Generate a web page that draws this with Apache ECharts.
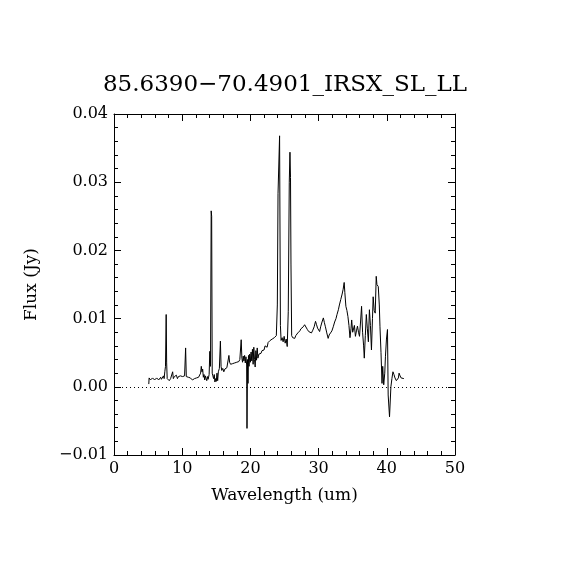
<!DOCTYPE html>
<html>
<head>
<meta charset="utf-8">
<script src="https://cdn.jsdelivr.net/npm/echarts@6/dist/echarts.min.js"></script>
<style>
  html, body { margin: 0; padding: 0; background: #fff; }
  #main { width: 570px; height: 570px; }
</style>
</head>
<body>
<div id="main"></div>
<script>
// spectrum (wavelength in um, flux in Jy)
var wavelength = [
  5.10, 5.15, 5.25, 5.35, 5.45, 5.55, 5.65, 5.75, 5.85, 5.95,
  6.05, 6.15, 6.25, 6.35, 6.45, 6.55, 6.65, 6.75, 6.85, 6.95,
  7.05, 7.15, 7.25, 7.35, 7.45, 7.55, 7.65, 7.72, 7.80, 7.90,
  8.00, 8.10, 8.20, 8.30, 8.45, 8.60, 8.70, 8.85, 9.00, 9.15,
  9.30, 9.45, 9.60, 9.75, 9.90, 10.05, 10.20, 10.35, 10.50, 10.60,
  10.75, 10.90, 11.05, 11.20, 11.35, 11.50, 11.65, 11.80, 11.95, 12.10,
  12.25, 12.40, 12.55, 12.70, 12.80, 12.90, 13.00, 13.10, 13.20, 13.30,
  13.40, 13.50, 13.60, 13.70, 13.80, 13.95, 14.05, 14.15, 14.25, 14.32,
  14.40, 14.50, 14.60, 14.70, 14.80, 14.90, 15.00, 15.10, 15.20, 15.30,
  15.45, 15.60, 15.70, 15.80, 15.95, 16.10, 16.25, 16.40, 16.55, 16.70,
  16.85, 16.95, 17.10, 17.25, 17.40, 17.55, 17.70, 17.85, 18.00, 18.15,
  18.30, 18.45, 18.55, 18.65, 18.75, 18.85, 18.95, 19.05, 19.15, 19.25,
  19.35, 19.45, 19.50, 19.58, 19.65, 19.72, 19.80, 19.90, 20.00, 20.10,
  20.20, 20.30, 20.40, 20.50, 20.60, 20.70, 20.80, 20.90, 21.00, 21.10,
  21.25, 21.40, 21.55, 21.70, 21.85, 22.00, 22.15, 22.30, 22.45, 22.60,
  22.75, 22.90, 23.05, 23.20, 23.35, 23.50, 23.65, 23.80, 23.95, 24.05,
  24.15, 24.28, 24.40, 24.50, 24.65, 24.80, 24.95, 25.10, 25.25, 25.40,
  25.55, 25.70, 25.80, 25.88, 25.95, 26.05, 26.20, 26.35, 26.50, 26.65,
  26.80, 26.95, 27.10, 27.25, 27.40, 27.55, 27.75, 27.95, 28.15, 28.35,
  28.55, 28.75, 28.95, 29.15, 29.35, 29.55, 29.70, 29.85, 30.00, 30.15,
  30.30, 30.50, 30.70, 30.85, 31.00, 31.20, 31.40, 31.55, 31.75, 31.95,
  32.15, 32.35, 32.55, 32.70, 32.90, 33.05, 33.25, 33.45, 33.60, 33.75,
  33.85, 34.00, 34.15, 34.30, 34.45, 34.60, 34.75, 34.85, 35.00, 35.10,
  35.25, 35.40, 35.55, 35.70, 35.85, 36.00, 36.15, 36.30, 36.45, 36.60,
  36.70, 36.85, 37.00, 37.15, 37.30, 37.45, 37.60, 37.75, 37.90, 38.00,
  38.15, 38.30, 38.45, 38.55, 38.75, 38.90, 39.00, 39.15, 39.30, 39.40,
  39.55, 39.70, 39.80, 39.95, 40.10, 40.20, 40.40, 40.60, 40.75, 40.90,
  41.05, 41.20, 41.40, 41.55, 41.70, 41.80, 41.95, 42.10, 42.30, 42.50
];
var flux = [
  0.0004, 0.0013, 0.0015, 0.0010, 0.0012, 0.0009, 0.0013, 0.0011, 0.0014, 0.0010,
  0.0012, 0.0009, 0.0013, 0.0011, 0.0015, 0.0010, 0.0012, 0.0008, 0.0014, 0.0011,
  0.0013, 0.0009, 0.0016, 0.0012, 0.0022, 0.0030, 0.0106, 0.0035, 0.0012, 0.0010,
  0.0013, 0.0009, 0.0011, 0.0012, 0.0014, 0.0022, 0.0012, 0.0015, 0.0013, 0.0017,
  0.0012, 0.0015, 0.0013, 0.0016, 0.0014, 0.0015, 0.0014, 0.0016, 0.0057, 0.0015,
  0.0013, 0.0014, 0.0012, 0.0013, 0.0011, 0.0010, 0.0011, 0.0012, 0.0011, 0.0013,
  0.0012, 0.0014, 0.0016, 0.0020, 0.0030, 0.0022, 0.0026, 0.0014, 0.0018, 0.0010,
  0.0016, 0.0012, 0.0009, 0.0015, 0.0011, 0.0018, 0.0052, 0.0030, 0.0258, 0.0250,
  0.0020, 0.0016, 0.0012, 0.0018, 0.0007, 0.0012, 0.0008, 0.0020, 0.0009, 0.0022,
  0.0027, 0.0067, 0.0030, 0.0024, 0.0027, 0.0022, 0.0026, 0.0024, 0.0028, 0.0027,
  0.0046, 0.0036, 0.0033, 0.0035, 0.0034, 0.0036, 0.0035, 0.0037, 0.0036, 0.0038,
  0.0037, 0.0040, 0.0038, 0.0069, 0.0042, 0.0036, 0.0045, 0.0038, 0.0046, 0.0035,
  0.0044, 0.0032, -0.0061, 0.0040, 0.0005, 0.0046, 0.0030, 0.0048, 0.0036, 0.0051,
  0.0038, 0.0055, 0.0033, 0.0058, 0.0040, 0.0029, 0.0053, 0.0039, 0.0057, 0.0042,
  0.0048, 0.0050, 0.0049, 0.0053, 0.0055, 0.0054, 0.0060, 0.0062, 0.0058, 0.0065,
  0.0063, 0.0068, 0.0066, 0.0070, 0.0068, 0.0072, 0.0071, 0.0075, 0.0120, 0.0283,
  0.0285, 0.0368, 0.0090, 0.0068, 0.0072, 0.0066, 0.0074, 0.0064, 0.0070, 0.0059,
  0.0110, 0.0300, 0.0344, 0.0307, 0.0180, 0.0075, 0.0072, 0.0074, 0.0071, 0.0075,
  0.0074, 0.0079, 0.0077, 0.0082, 0.0085, 0.0087, 0.0088, 0.0091, 0.0090, 0.0084,
  0.0081, 0.0083, 0.0079, 0.0083, 0.0088, 0.0096, 0.0091, 0.0086, 0.0084, 0.0081,
  0.0088, 0.0095, 0.0101, 0.0094, 0.0088, 0.0079, 0.0071, 0.0076, 0.0079, 0.0082,
  0.0088, 0.0095, 0.0100, 0.0106, 0.0113, 0.0120, 0.0128, 0.0136, 0.0143, 0.0153,
  0.0138, 0.0118, 0.0112, 0.0103, 0.0090, 0.0072, 0.0085, 0.0098, 0.0080, 0.0081,
  0.0090, 0.0074, 0.0082, 0.0089, 0.0080, 0.0074, 0.0095, 0.0118, 0.0080, 0.0060,
  0.0042, 0.0075, 0.0106, 0.0085, 0.0066, 0.0113, 0.0090, 0.0054, 0.0100, 0.0132,
  0.0112, 0.0108, 0.0162, 0.0150, 0.0147, 0.0120, 0.0088, 0.0050, 0.0005, 0.0030,
  0.0003, 0.0020, 0.0044, 0.0070, 0.0084, -0.0012, -0.0044, 0.0000, 0.0012, 0.0022,
  0.0018, 0.0013, 0.0009, 0.0008, 0.0013, 0.0020, 0.0016, 0.0013, 0.0012, 0.0012
];
var xTicks = [0, 10, 20, 30, 40, 50];
var yTicks = [-0.01, 0.00, 0.01, 0.02, 0.03, 0.04];

var titleText = '85.6390\u221270.4901_IRSX_SL_LL';
var serif = 'DejaVu Serif';

var points = wavelength.map(function (w, i) { return [w, flux[i]]; });

function yLabel(v) {
  var s = v.toFixed(2);
  if (s === '-0.00') s = '0.00';
  return s.replace('-', '\u2212');
}

function xAxisCfg(pos, showLabel) {
  return {
    type: 'value', position: pos,
    min: xTicks[0], max: xTicks[xTicks.length - 1], interval: 10,
    name: showLabel ? 'Wavelength (um)' : '',
    nameLocation: 'middle', nameGap: 32,
    nameTextStyle: { fontFamily: serif, fontSize: 17, color: '#000' },
    axisLine: { show: true, onZero: false, lineStyle: { color: '#000', width: 1 } },
    axisTick: { show: true, inside: true, length: 7, lineStyle: { color: '#000' } },
    minorTick: { show: true, splitNumber: 5, length: 4, lineStyle: { color: '#000' } },
    axisLabel: { show: showLabel, margin: 6, fontFamily: serif, fontSize: 16, color: '#000' },
    splitLine: { show: false }
  };
}

function yAxisCfg(pos, showLabel) {
  return {
    type: 'value', position: pos,
    min: yTicks[0], max: yTicks[yTicks.length - 1], interval: 0.01,
    name: showLabel ? 'Flux (Jy)' : '',
    nameLocation: 'middle', nameGap: 74, nameRotate: 90,
    nameTextStyle: { fontFamily: serif, fontSize: 17, color: '#000' },
    axisLine: { show: true, onZero: false, lineStyle: { color: '#000', width: 1 } },
    axisTick: { show: true, inside: true, length: 7, lineStyle: { color: '#000' } },
    minorTick: { show: true, splitNumber: 5, length: 4, lineStyle: { color: '#000' } },
    axisLabel: { show: showLabel, margin: 6, fontFamily: serif, fontSize: 16, color: '#000', formatter: yLabel },
    splitLine: { show: false }
  };
}

var chart = echarts.init(document.getElementById('main'), null, { renderer: 'canvas' });
chart.setOption({
  backgroundColor: '#fff',
  animation: false,
  title: {
    text: titleText, left: 'center', top: 69,
    textStyle: { fontFamily: serif, fontSize: 23, fontWeight: 'normal', color: '#000' }
  },
  grid: { left: 114, right: 115, top: 114, bottom: 115, containLabel: false },
  xAxis: [xAxisCfg('bottom', true), xAxisCfg('top', false)],
  yAxis: [yAxisCfg('left', true), yAxisCfg('right', false)],
  series: [{
    type: 'line',
    data: points,
    showSymbol: false,
    lineStyle: { color: '#000', width: 1 },
    markLine: {
      silent: true, symbol: 'none',
      label: { show: false },
      lineStyle: { color: '#000', width: 1, type: [1, 3] },
      data: [{ yAxis: 0 }]
    }
  }]
});
</script>
</body>
</html>
